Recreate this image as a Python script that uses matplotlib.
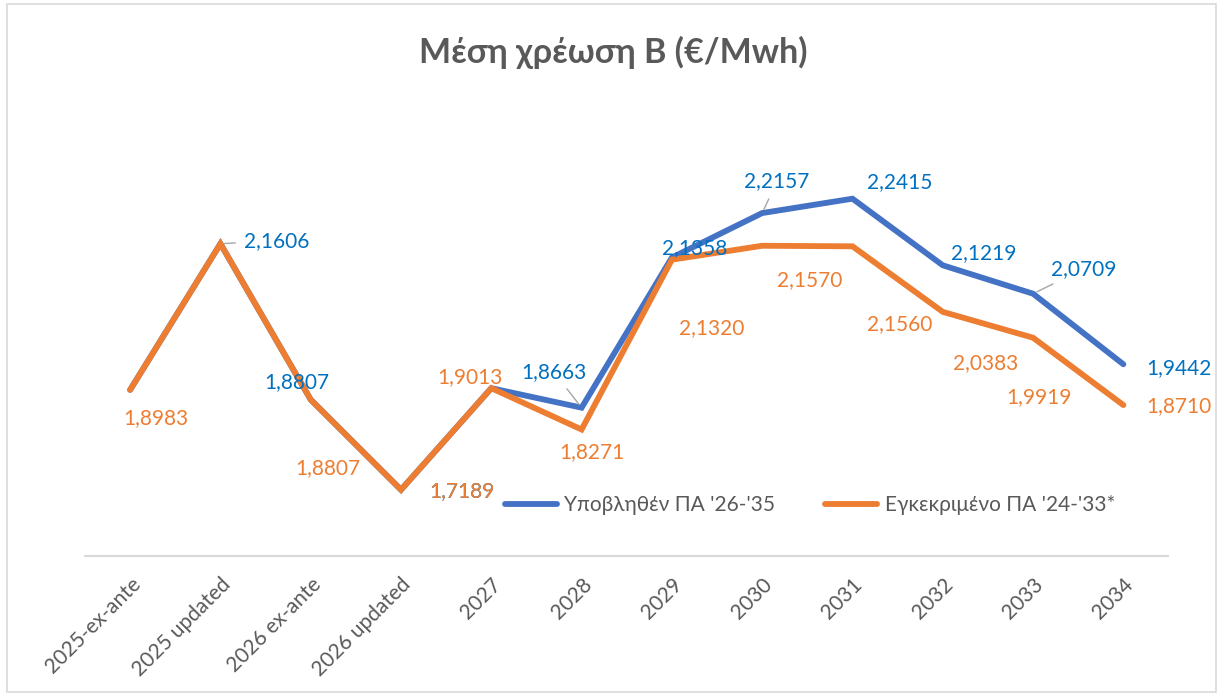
import matplotlib
matplotlib.use("Agg")
import matplotlib.pyplot as plt
from matplotlib.patches import Rectangle

plt.rcParams['font.family'] = ['Lato', 'DejaVu Sans']

# δεδομένα
categories = ['2025-ex-ante', '2025 updated', '2026 ex-ante', '2026 updated',
              '2027', '2028', '2029', '2030', '2031', '2032', '2033', '2034']
submitted = [1.8983, 2.1606, 1.8807, 1.7189, 1.9013, 1.8663,
             2.1358, 2.2157, 2.2415, 2.1219, 2.0709, 1.9442]
approved = [1.8983, 2.1606, 1.8807, 1.7189, 1.9013, 1.8271,
            2.1320, 2.1570, 2.1560, 2.0383, 1.9919, 1.8710]
label_sub = "Υποβληθέν ΠΑ '26-'35"
label_app = "Εγκεκριμένο ΠΑ '24-'33*"
title = 'Μέση χρέωση Β (€/Mwh)'

BLUE = '#4472C4'
ORANGE = '#ED7D31'
BLUE_TXT = '#0070C0'
GRAY = '#595959'

# θέσεις ετικετών (pixels: dx, dy προς τα πάνω), None = κρυφή
off_sub = [None, (56, 3), (-14, 18), (61, -1), None, (-28, 36),
           (23, 9), (15, 32), (47, 17), (41, 12), (51, 25), (56, -4)]
off_app = [(26, -28), None, (17, -68), (61, -1), (-21, 11), (10, -23),
           (40, -68), (48, -34), (47, -78), (43, -51), (6, -59), (56, -1)]
leader_sub = {1, 5, 7, 10}

fig = plt.figure(figsize=(12.21, 6.95), dpi=100)
ax = fig.add_axes([0.0696, 0.2, 0.8874, 0.561])

x = list(range(len(categories)))
ax.plot(x, submitted, color=BLUE, lw=4.2, solid_capstyle='round',
        solid_joinstyle='miter', label=label_sub, zorder=2)
ax.plot(x, approved, color=ORANGE, lw=4.2, solid_capstyle='round',
        solid_joinstyle='miter', label=label_app, zorder=3)

ax.set_ylim(1.6, 2.3)
ax.set_xlim(-0.5, len(categories) - 0.5)


def fmt(v):
    return f'{v:.4f}'.replace('.', ',')


def put_labels(vals, offs, color, leaders=()):
    for i, (v, o) in enumerate(zip(vals, offs)):
        if o is None:
            continue
        kw = {}
        if i in leaders:
            kw['arrowprops'] = dict(arrowstyle='-', color='#A6A6A6', lw=1,
                                    shrinkA=4, shrinkB=3)
        ax.annotate(fmt(v), (i, v), xytext=(o[0] * 0.72, o[1] * 0.72),
                    textcoords='offset points', ha='center', va='center',
                    color=color, fontsize=15, zorder=5, **kw)


put_labels(submitted, off_sub, BLUE_TXT, leader_sub)
put_labels(approved, off_app, ORANGE)

ax.set_xticks(x)
ax.set_xticklabels(categories, rotation=45, ha='right', rotation_mode='anchor',
                   fontsize=15, color=GRAY)
ax.tick_params(axis='x', length=0, pad=13)
ax.set_yticks([])
for s in ['top', 'right', 'left']:
    ax.spines[s].set_visible(False)
ax.spines['bottom'].set_color('#D9D9D9')
ax.spines['bottom'].set_linewidth(1.5)

leg = ax.legend(loc='center', bbox_to_anchor=(0.669, 0.131), ncol=2,
                frameon=False, fontsize=15, handlelength=2.5,
                handletextpad=0.35, columnspacing=2.4)
for t in leg.get_texts():
    t.set_color(GRAY)

fig.text(0.502, 0.925, title, ha='center', va='center', fontsize=24.5,
         fontweight='bold', color=GRAY)

fig.patches.append(Rectangle((0.006, 0.004), 0.99, 0.99, transform=fig.transFigure,
                             fill=False, edgecolor='#D9D9D9', lw=1.2))

fig.savefig('out.png', dpi=100)
